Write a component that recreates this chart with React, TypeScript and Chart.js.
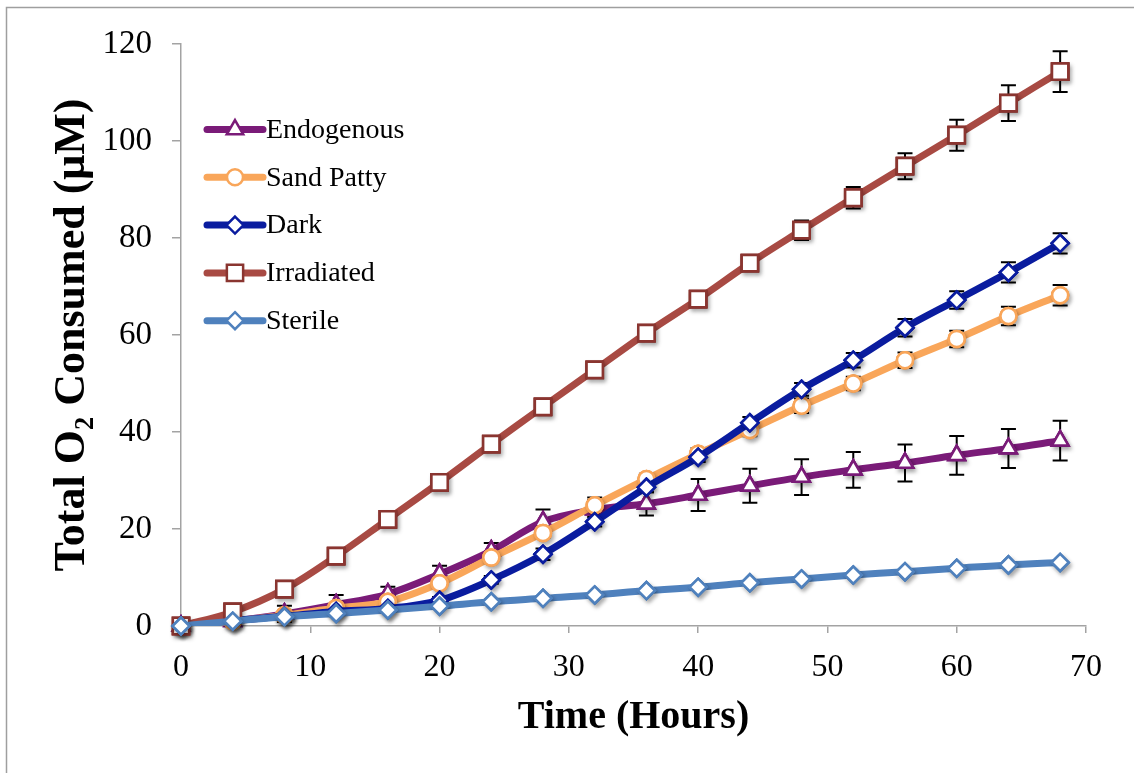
import React, { useEffect, useRef } from 'react';
import { Chart, registerables } from 'chart.js';

Chart.register(...registerables);

const hours = [0, 4, 8, 12, 16, 20, 24, 28, 32, 36, 40, 44, 48, 52, 56, 60, 64, 68];

const endogenous = [0, 1.0, 2.5, 4.4, 6.6, 10.7, 15.5, 21.5, 24.0, 25.2, 27.0, 28.9, 30.7, 32.2, 33.6, 35.2, 36.6, 38.2];
const endogenousErr = [0, 0.5, 1.7, 2.0, 1.5, 1.7, 1.6, 2.5, 2.5, 2.4, 3.3, 3.5, 3.7, 3.7, 3.8, 4.0, 4.0, 4.1];

const sandPatty = [0, 1.0, 2.2, 3.7, 5.0, 8.8, 14.1, 19.2, 24.9, 30.3, 35.5, 40.4, 45.4, 50.0, 54.8, 59.2, 63.9, 68.2];
const sandPattyErr = [0, 0.3, 0.5, 0.6, 0.7, 0.8, 0.9, 1.0, 1.1, 1.1, 1.2, 1.3, 1.5, 1.4, 1.6, 1.7, 1.9, 2.1];

const dark = [0, 1.1, 2.0, 3.0, 3.6, 5.3, 9.5, 14.8, 21.5, 28.6, 34.8, 41.9, 48.8, 54.8, 61.5, 67.2, 72.9, 78.9];
const darkErr = [0, 0.3, 0.5, 0.6, 0.6, 0.7, 0.8, 1.2, 1.0, 1.0, 1.0, 1.2, 1.3, 1.5, 1.8, 1.8, 2.1, 2.1];

const irradiated = [0, 2.9, 7.6, 14.4, 22.0, 29.6, 37.5, 45.2, 52.8, 60.4, 67.4, 74.8, 81.6, 88.3, 94.8, 101.2, 107.8, 114.3];
const irradiatedErr = [0, 0.3, 0.6, 1.5, 1.0, 0.8, 0.8, 0.8, 0.8, 0.9, 1.0, 1.2, 2.0, 2.2, 2.7, 3.2, 3.7, 4.2];

const sterile = [0, 1.0, 1.9, 2.6, 3.3, 4.1, 5.0, 5.7, 6.4, 7.3, 8.0, 8.9, 9.7, 10.5, 11.2, 11.9, 12.6, 13.1];
const sterileErr = [0, 0.1, 0.1, 0.2, 0.2, 0.2, 0.2, 0.2, 0.2, 0.2, 0.3, 0.3, 0.3, 0.3, 0.3, 0.3, 0.3, 0.3];

const xTicks = [0, 10, 20, 30, 40, 50, 60, 70];
const yTicks = [0, 20, 40, 60, 80, 100, 120];

const seriesNames = ['Endogenous', 'Sand Patty', 'Dark', 'Irradiated', 'Sterile'];

const SERIF = '"Liberation Serif", "DejaVu Serif", serif';
const AXIS_GRAY = '#a3a3a3';

function drawMarker(ctx: CanvasRenderingContext2D, style: string, x: number, y: number, r: number) {
  ctx.beginPath();
  if (style === 'circle') {
    ctx.arc(x, y, r, 0, Math.PI * 2);
  } else if (style === 'triangle') {
    ctx.moveTo(x, y - r);
    ctx.lineTo(x + r * Math.sin(Math.PI / 3), y + r * 0.5);
    ctx.lineTo(x - r * Math.sin(Math.PI / 3), y + r * 0.5);
    ctx.closePath();
  } else if (style === 'rectRot') {
    ctx.moveTo(x, y - r);
    ctx.lineTo(x + r, y);
    ctx.lineTo(x, y + r);
    ctx.lineTo(x - r, y);
    ctx.closePath();
  } else {
    const s = r * Math.SQRT1_2;
    ctx.rect(x - s, y - s, 2 * s, 2 * s);
  }
  ctx.fill();
  ctx.stroke();
}

const errorBarPlugin = {
  id: 'errorBars',
  beforeDatasetsDraw(chart: any) {
    const { ctx, scales } = chart;
    const xs = scales.x;
    const ys = scales.y;
    ctx.save();
    ctx.strokeStyle = '#000000';
    ctx.lineWidth = 2;
    chart.data.datasets.forEach((ds: any) => {
      const errs: number[] = ds.errors || [];
      ds.data.forEach((p: any, i: number) => {
        const e = errs[i] || 0;
        if (e <= 0) return;
        const x = xs.getPixelForValue(p.x);
        const yt = ys.getPixelForValue(p.y + e);
        const yb = ys.getPixelForValue(p.y - e);
        ctx.beginPath();
        ctx.moveTo(x, yt);
        ctx.lineTo(x, yb);
        ctx.moveTo(x - 7.5, yt);
        ctx.lineTo(x + 7.5, yt);
        ctx.moveTo(x - 7.5, yb);
        ctx.lineTo(x + 7.5, yb);
        ctx.stroke();
      });
    });
    ctx.restore();
  },
};

const markerShadowPlugin = {
  id: 'markerShadow',
  afterDatasetDraw(chart: any, args: any) {
    const { ctx } = chart;
    const meta = args.meta;
    ctx.save();
    ctx.shadowColor = 'rgba(0,0,0,0.3)';
    ctx.shadowBlur = 4;
    ctx.shadowOffsetX = 2;
    ctx.shadowOffsetY = 3;
    meta.data.forEach((el: any) => el.draw(ctx, chart.chartArea));
    ctx.restore();
    ctx.save();
    meta.data.forEach((el: any) => el.draw(ctx, chart.chartArea));
    ctx.restore();
  },
};

const frameAndLegendPlugin = {
  id: 'frameLegend',
  beforeDraw(chart: any) {
    const { ctx } = chart;
    ctx.save();
    ctx.strokeStyle = '#9f9f9f';
    ctx.lineWidth = 1.5;
    ctx.beginPath();
    ctx.moveTo(6.5, 773);
    ctx.lineTo(6.5, 7.5);
    ctx.lineTo(1134, 7.5);
    ctx.stroke();
    ctx.restore();
  },
  afterDraw(chart: any) {
    const { ctx } = chart;
    const x0 = 207;
    const x1 = 263;
    const xm = 235;
    const yStart = 129.5;
    const step = 47.8;
    ctx.save();
    chart.data.datasets.forEach((ds: any, i: number) => {
      const y = yStart + i * step;
      ctx.strokeStyle = ds.borderColor;
      ctx.lineWidth = 7;
      ctx.lineCap = 'round';
      ctx.beginPath();
      ctx.moveTo(x0, y);
      ctx.lineTo(x1, y);
      ctx.stroke();
      ctx.lineCap = 'butt';
      ctx.fillStyle = '#ffffff';
      ctx.strokeStyle = ds.pointBorderColor;
      ctx.lineWidth = 2.5;
      drawMarker(ctx, ds.pointStyle, xm, y, ds.pointRadius);
      ctx.fillStyle = '#000000';
      ctx.font = '28px ' + SERIF;
      ctx.textBaseline = 'middle';
      ctx.textAlign = 'left';
      ctx.fillText(ds.label, 266, y + 1);
    });
    ctx.restore();
  },
};

export default function App() {
  const canvasRef = useRef<HTMLCanvasElement | null>(null);

  useEffect(() => {
    if (!canvasRef.current) return;
    const mk = (vals: number[]) => hours.map((h, i) => ({ x: h, y: vals[i] }));
    const specs = [
      { vals: endogenous, errs: endogenousErr, color: '#7a1b78', pColor: '#7a1b78', style: 'triangle', r: 9.5, order: 5 },
      { vals: sandPatty, errs: sandPattyErr, color: '#f9a65a', pColor: '#f9a65a', style: 'circle', r: 8, order: 4 },
      { vals: dark, errs: darkErr, color: '#0a1c9f', pColor: '#0a1c9f', style: 'rectRot', r: 8.5, order: 3 },
      { vals: irradiated, errs: irradiatedErr, color: '#a84a43', pColor: '#8a3530', style: 'rect', r: 11.5, order: 2 },
      { vals: sterile, errs: sterileErr, color: '#4f81bd', pColor: '#4f81bd', style: 'rectRot', r: 8.5, order: 1 },
    ];
    const datasets = specs.map((s, i) => ({
      label: seriesNames[i],
      data: mk(s.vals),
      errors: s.errs,
      borderColor: s.color,
      backgroundColor: s.color,
      borderWidth: 7,
      tension: 0.35,
      pointStyle: s.style,
      pointRadius: s.r,
      pointBackgroundColor: '#ffffff',
      pointBorderColor: s.pColor,
      pointBorderWidth: 2.5,
      order: s.order,
    }));

    const chart = new Chart(canvasRef.current, {
      type: 'line',
      data: { datasets } as any,
      plugins: [errorBarPlugin, markerShadowPlugin, frameAndLegendPlugin],
      options: {
        animation: false,
        responsive: false,
        devicePixelRatio: 1,
        layout: { padding: { left: 0, top: 44, right: 48, bottom: 0 } },
        plugins: { legend: { display: false }, tooltip: { enabled: false } },
        scales: {
          x: {
            type: 'linear',
            min: 0,
            max: 70,
            afterBuildTicks: (axis: any) => {
              axis.ticks = xTicks.map((v) => ({ value: v }));
            },
            afterFit: (axis: any) => {
              axis.height = 147;
            },
            ticks: { color: '#000000', font: { family: SERIF, size: 32 }, padding: 15, maxRotation: 0 },
            grid: { drawOnChartArea: false, drawTicks: true, tickLength: 7, color: AXIS_GRAY, lineWidth: 1.5 },
            border: { display: true, color: AXIS_GRAY, width: 1.5 },
            title: {
              display: true,
              text: 'Time (Hours)',
              color: '#000000',
              font: { family: SERIF, size: 40, weight: 'bold' },
              padding: { top: 0, bottom: 31 },
            },
          },
          y: {
            type: 'linear',
            min: 0,
            max: 120,
            afterBuildTicks: (axis: any) => {
              axis.ticks = yTicks.map((v) => ({ value: v }));
            },
            afterFit: (axis: any) => {
              axis.width = 181;
            },
            ticks: { color: '#000000', font: { family: SERIF, size: 33 }, padding: 20 },
            grid: { drawOnChartArea: false, drawTicks: true, tickLength: 9, color: AXIS_GRAY, lineWidth: 1.5 },
            border: { display: true, color: AXIS_GRAY, width: 1.5 },
            title: {
              display: true,
              text: 'Total O\u2082 Consumed (\u03bcM)',
              color: '#000000',
              font: { family: SERIF, size: 44, weight: 'bold' },
              padding: { top: 46, bottom: 0 },
            },
          },
        },
      } as any,
    });
    return () => chart.destroy();
  }, []);

  return (
    <div style={{ position: 'absolute', left: 0, top: 0, width: 1134, height: 773, background: '#ffffff' }}>
      <canvas ref={canvasRef} width={1134} height={773} style={{ display: 'block' }} />
    </div>
  );
}
